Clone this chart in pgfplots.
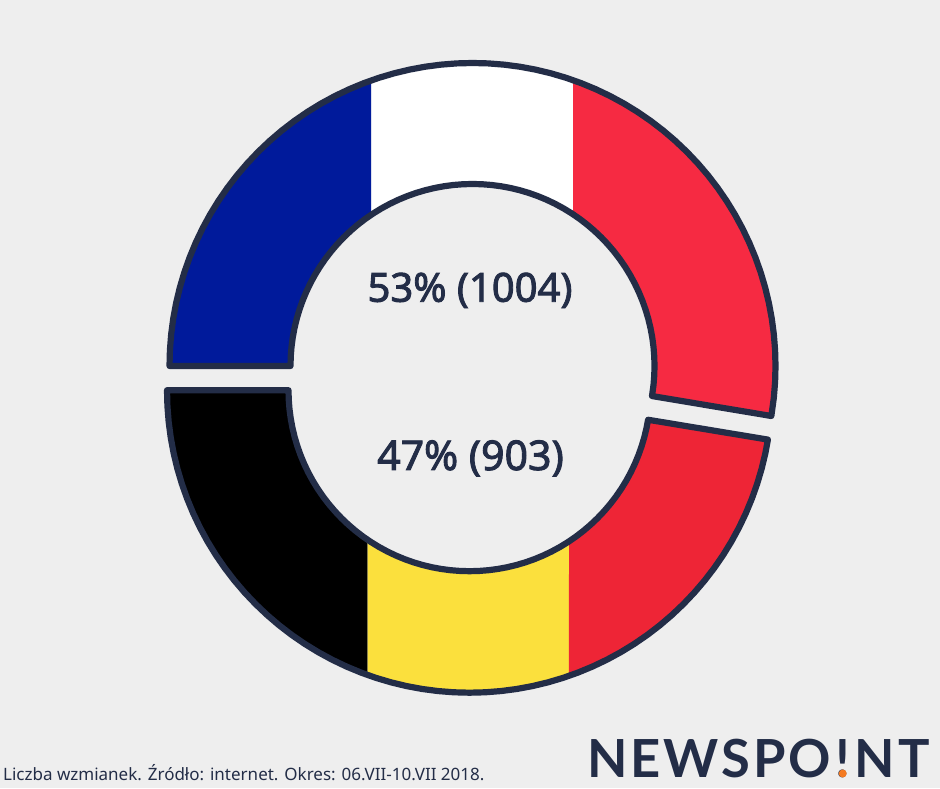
\documentclass[border=0pt]{standalone}
\usepackage{pgfplots}
\pgfplotsset{compat=1.18}
\usepackage{fontspec}
\setmainfont{Noto Sans}
\newfontfamily\labf[FakeBold=2.2]{Noto Sans}
\newfontfamily\logofont[LetterSpace=5.5]{Lato}
\definecolor{bgc}{HTML}{EEEEEE}
\definecolor{ink}{HTML}{232D47}
\definecolor{frblue}{HTML}{001A9B}
\definecolor{frred}{HTML}{F62A42}
\definecolor{beyellow}{HTML}{FBE03D}
\definecolor{bered}{HTML}{EE2536}
\definecolor{logoor}{HTML}{F47A20}
\pgfplotsset{ring/.style={hide axis,scale only axis,width=940pt,height=788pt,clip=false,at={(0,0)},anchor=south west,data cs=polar,no markers}}
\begin{document}
\begin{tikzpicture}[x=1pt,y=1pt]
\fill[bgc] (0,0) rectangle (940,788);
% France: 53%
\begin{axis}[ring,xmin=-472.5,xmax=467.5,ymin=-422,ymax=366]
\addplot[fill=frblue,draw=none] coordinates {(180,303)(175,303)(170,303)(165,303)(160,303)(155,303)(150,303)(145,303)(140,303)(135,303)(130,303)(125,303)(120,303)(115,303)(109.5,303)(123.8,182)(125,182)(130,182)(135,182)(140,182)(145,182)(150,182)(155,182)(160,182)(165,182)(170,182)(175,182)(180,182)} -- cycle;
\addplot[fill=white,draw=none] coordinates {(109.5,303)(105,303)(100,303)(95,303)(90,303)(85,303)(80,303)(75,303)(70.6,303)(56.4,182)(60,182)(65,182)(70,182)(75,182)(80,182)(85,182)(90,182)(95,182)(100,182)(105,182)(110,182)(115,182)(120,182)(123.8,182)} -- cycle;
\addplot[fill=frred,draw=none] coordinates {(70.6,303)(65,303)(60,303)(55,303)(50,303)(45,303)(40,303)(35,303)(30,303)(25,303)(20,303)(15,303)(10,303)(5,303)(0,303)(-5,303)(-9.5,303)(-9.5,182)(-5,182)(0,182)(5,182)(10,182)(15,182)(20,182)(25,182)(30,182)(35,182)(40,182)(45,182)(50,182)(56.4,182)} -- cycle;
\addplot[draw=ink,line width=6.2pt,line join=round] coordinates {(180,303)(177,303)(174,303)(171,303)(168,303)(165,303)(162,303)(159,303)(156,303)(153,303)(150,303)(147,303)(144,303)(141,303)(138,303)(135,303)(132,303)(129,303)(126,303)(123,303)(120,303)(117,303)(114,303)(111,303)(108,303)(105,303)(102,303)(99,303)(96,303)(93,303)(90,303)(87,303)(84,303)(81,303)(78,303)(75,303)(72,303)(69,303)(66,303)(63,303)(60,303)(57,303)(54,303)(51,303)(48,303)(45,303)(42,303)(39,303)(36,303)(33,303)(30,303)(27,303)(24,303)(21,303)(18,303)(15,303)(12,303)(9,303)(6,303)(3,303)(0,303)(-3,303)(-6,303)(-9.5,303)(-9.5,182)(-6,182)(-3,182)(0,182)(3,182)(6,182)(9,182)(12,182)(15,182)(18,182)(21,182)(24,182)(27,182)(30,182)(33,182)(36,182)(39,182)(42,182)(45,182)(48,182)(51,182)(54,182)(57,182)(60,182)(63,182)(66,182)(69,182)(72,182)(75,182)(78,182)(81,182)(84,182)(87,182)(90,182)(93,182)(96,182)(99,182)(102,182)(105,182)(108,182)(111,182)(114,182)(117,182)(120,182)(123,182)(126,182)(129,182)(132,182)(135,182)(138,182)(141,182)(144,182)(147,182)(150,182)(153,182)(156,182)(159,182)(162,182)(165,182)(168,182)(171,182)(174,182)(177,182)(180,182)} -- cycle;
\end{axis}
% Belgium: 47%
\begin{axis}[ring,xmin=-469.5,xmax=470.5,ymin=-397.8,ymax=390.2]
\addplot[fill=black,draw=none] coordinates {(180,302.5)(185,302.5)(190,302.5)(195,302.5)(200,302.5)(205,302.5)(210,302.5)(215,302.5)(220,302.5)(225,302.5)(230,302.5)(235,302.5)(240,302.5)(245,302.5)(250.33,302.5)(235.78,181)(230,181)(225,181)(220,181)(215,181)(210,181)(205,181)(200,181)(195,181)(190,181)(185,181)(180,181)} -- cycle;
\addplot[fill=beyellow,draw=none] coordinates {(250.33,302.5)(255,302.5)(260,302.5)(265,302.5)(270,302.5)(275,302.5)(280,302.5)(285,302.5)(289.2,302.5)(303.35,181)(300,181)(295,181)(290,181)(285,181)(280,181)(275,181)(270,181)(265,181)(260,181)(255,181)(250,181)(245,181)(240,181)(235.78,181)} -- cycle;
\addplot[fill=bered,draw=none] coordinates {(289.2,302.5)(295,302.5)(300,302.5)(305,302.5)(310,302.5)(315,302.5)(320,302.5)(325,302.5)(330,302.5)(335,302.5)(340,302.5)(345,302.5)(350.6,302.5)(350.6,181)(345,181)(340,181)(335,181)(330,181)(325,181)(320,181)(315,181)(310,181)(305,181)(303.35,181)} -- cycle;
\addplot[draw=ink,line width=6.2pt,line join=round] coordinates {(180,302.5)(183,302.5)(186,302.5)(189,302.5)(192,302.5)(195,302.5)(198,302.5)(201,302.5)(204,302.5)(207,302.5)(210,302.5)(213,302.5)(216,302.5)(219,302.5)(222,302.5)(225,302.5)(228,302.5)(231,302.5)(234,302.5)(237,302.5)(240,302.5)(243,302.5)(246,302.5)(249,302.5)(252,302.5)(255,302.5)(258,302.5)(261,302.5)(264,302.5)(267,302.5)(270,302.5)(273,302.5)(276,302.5)(279,302.5)(282,302.5)(285,302.5)(288,302.5)(291,302.5)(294,302.5)(297,302.5)(300,302.5)(303,302.5)(306,302.5)(309,302.5)(312,302.5)(315,302.5)(318,302.5)(321,302.5)(324,302.5)(327,302.5)(330,302.5)(333,302.5)(336,302.5)(339,302.5)(342,302.5)(345,302.5)(348,302.5)(350.6,302.5)(350.6,181)(348,181)(345,181)(342,181)(339,181)(336,181)(333,181)(330,181)(327,181)(324,181)(321,181)(318,181)(315,181)(312,181)(309,181)(306,181)(303,181)(300,181)(297,181)(294,181)(291,181)(288,181)(285,181)(282,181)(279,181)(276,181)(273,181)(270,181)(267,181)(264,181)(261,181)(258,181)(255,181)(252,181)(249,181)(246,181)(243,181)(240,181)(237,181)(234,181)(231,181)(228,181)(225,181)(222,181)(219,181)(216,181)(213,181)(210,181)(207,181)(204,181)(201,181)(198,181)(195,181)(192,181)(189,181)(186,181)(183,181)(180,181)} -- cycle;
\end{axis}
% Labels (y = 788 - pixel y)
\node[anchor=base,text=ink,font=\fontsize{40}{40}\selectfont\labf,inner sep=0] at (470,486.3) {53\% (1004)};
\node[anchor=base,text=ink,font=\fontsize{41}{41}\selectfont\labf,inner sep=0] at (470.5,318) {47\% (903)};
\node[anchor=base west,text=ink,font=\fontsize{17}{17}\selectfont,inner sep=0] at (3,8) {Liczba wzmianek. Źródło: internet. Okres: 06.VII-10.VII 2018.};
\node[anchor=base west,text=ink,font=\fontsize{52.5}{52.5}\selectfont\logofont\bfseries,inner sep=0] at (587,10.7) {NEWSPO};
\node[anchor=base,text=ink,font=\fontsize{52.5}{52.5}\selectfont\logofont\bfseries,inner sep=0] at (842.7,10.7) {!};
\node[anchor=base west,text=ink,font=\fontsize{52.5}{52.5}\selectfont\logofont\bfseries,inner sep=0] at (854.5,10.7) {NT};
\fill[logoor] (842.7,14.5) circle (4);
\end{tikzpicture}
\end{document}
